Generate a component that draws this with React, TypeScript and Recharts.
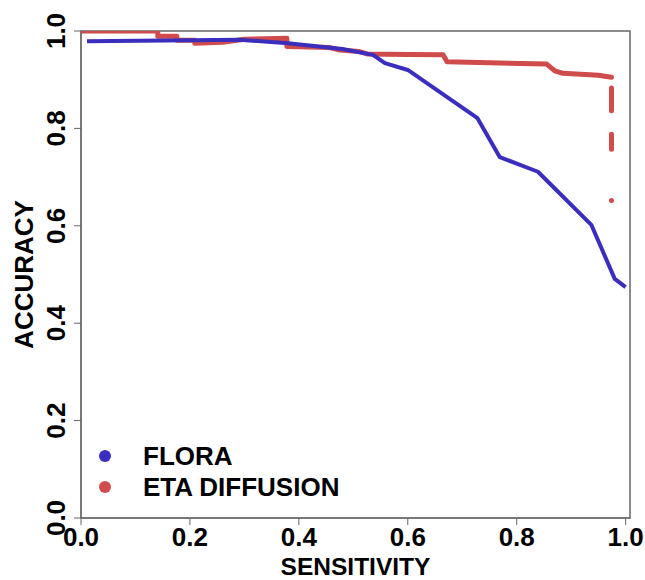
import React from 'react';
import { ComposedChart, Line, Scatter, XAxis, YAxis, ReferenceArea, Label } from 'recharts';

const sensTicks = [0, 0.2, 0.4, 0.6, 0.8, 1.0];
const accTicks = [0, 0.2, 0.4, 0.6, 0.8, 1.0];

// FLORA curve
const floraSens = [0.011, 0.2, 0.29, 0.38, 0.48, 0.536, 0.558, 0.6, 0.728, 0.769, 0.839, 0.937, 0.98, 1.0];
const floraAcc = [0.979, 0.981, 0.982, 0.975, 0.963, 0.951, 0.934, 0.92, 0.821, 0.741, 0.711, 0.602, 0.491, 0.474];

// ETA diffusion, stepped part
const etaSens = [0, 0.141, 0.141, 0.176, 0.176, 0.209, 0.209, 0.26, 0.3, 0.378, 0.378, 0.457, 0.475, 0.51, 0.525, 0.6, 0.665, 0.672, 0.75, 0.855, 0.87, 0.885, 0.95, 0.974];
const etaAcc = [1.0, 1.0, 0.989, 0.989, 0.981, 0.981, 0.975, 0.977, 0.983, 0.985, 0.968, 0.966, 0.961, 0.958, 0.953, 0.952, 0.951, 0.937, 0.935, 0.932, 0.918, 0.913, 0.909, 0.905];

// ETA diffusion, vertical tail at the last sensitivity
const etaTailSens = 0.974;
const etaDash1 = [0.883, 0.836];
const etaDash2 = [0.788, 0.757];
const etaDot = [0.652];

const BLUE = '#3b2dbd';
const RED = '#d04b4b';
const AXIS = '#666';
const FONT = '"Liberation Sans", Arial, Helvetica, sans-serif';

const floraData = floraSens.map((s, i) => ({ sens: s, acc: floraAcc[i] }));
const etaData = etaSens.map((s, i) => ({ sens: s, acc: etaAcc[i] }));
const dash1Data = etaDash1.map((a) => ({ sens: etaTailSens, acc: a }));
const dash2Data = etaDash2.map((a) => ({ sens: etaTailSens, acc: a }));
const dotData = etaDot.map((a) => ({ sens: etaTailSens, acc: a }));

const XTick = (props: any) => (
  <text x={props.x} y={546} textAnchor='middle' fontFamily={FONT} fontWeight='bold' fontSize={26} fill='#000'>
    {Number(props.payload.value).toFixed(1)}
  </text>
);

const YTick = (props: any) => (
  <text
    x={65}
    y={props.y}
    transform={`rotate(-90, 65, ${props.y})`}
    textAnchor='middle'
    fontFamily={FONT}
    fontWeight='bold'
    fontSize={26}
    fill='#000'
  >
    {Number(props.payload.value).toFixed(1)}
  </text>
);

const SmallDot = (props: any) => <circle cx={props.cx} cy={props.cy} r={2.5} fill={RED} />;

export default function App() {
  return (
    <div style={{ position: 'absolute', left: 0, top: 0, width: 645, height: 580, background: '#fff' }}>
      <ComposedChart width={645} height={580} margin={{ top: 31, right: 15, bottom: 0, left: 0 }}>
        <XAxis
          type='number'
          dataKey='sens'
          domain={[0, 1.008]}
          ticks={sensTicks}
          allowDataOverflow
          height={62}
          tickSize={7}
          stroke={AXIS}
          tick={<XTick />}
        >
          <Label
            content={() => (
              <text x={355.5} y={574.5} textAnchor='middle' fontFamily={FONT} fontWeight='bold' fontSize={24.5} fill='#000'>
                SENSITIVITY
              </text>
            )}
          />
        </XAxis>
        <YAxis
          type='number'
          dataKey='acc'
          domain={[0, 1]}
          ticks={accTicks}
          allowDataOverflow
          width={81}
          tickSize={7}
          stroke={AXIS}
          tick={<YTick />}
        >
          <Label
            content={() => (
              <text
                x={33}
                y={274.5}
                transform='rotate(-90, 33, 274.5)'
                textAnchor='middle'
                fontFamily={FONT}
                fontWeight='bold'
                fontSize={26}
                fill='#000'
              >
                ACCURACY
              </text>
            )}
          />
        </YAxis>
        <ReferenceArea x1={0} x2={1.008} y1={0} y2={1} fill='none' stroke={AXIS} strokeWidth={1.5} />
        <Line
          data={etaData}
          dataKey='acc'
          stroke={RED}
          strokeWidth={5}
          strokeLinecap='round'
          strokeLinejoin='round'
          dot={false}
          isAnimationActive={false}
        />
        <Line data={dash1Data} dataKey='acc' stroke={RED} strokeWidth={5} strokeLinecap='round' dot={false} isAnimationActive={false} />
        <Line data={dash2Data} dataKey='acc' stroke={RED} strokeWidth={5} strokeLinecap='round' dot={false} isAnimationActive={false} />
        <Scatter data={dotData} dataKey='acc' fill={RED} shape={<SmallDot />} isAnimationActive={false} />
        <Line
          data={floraData}
          dataKey='acc'
          stroke={BLUE}
          strokeWidth={4}
          strokeLinejoin='round'
          dot={false}
          isAnimationActive={false}
        />
      </ComposedChart>
      <div style={{ position: 'absolute', left: 99, top: 450, width: 12, height: 12, borderRadius: '50%', background: BLUE }} />
      <div style={{ position: 'absolute', left: 99, top: 481, width: 12, height: 12, borderRadius: '50%', background: RED }} />
      <div
        style={{
          position: 'absolute',
          left: 143,
          top: 441,
          fontFamily: FONT,
          fontWeight: 'bold',
          fontSize: 26,
          lineHeight: '31px',
          color: '#000',
          whiteSpace: 'nowrap',
        }}
      >
        <div>FLORA</div>
        <div>ETA DIFFUSION</div>
      </div>
    </div>
  );
}
